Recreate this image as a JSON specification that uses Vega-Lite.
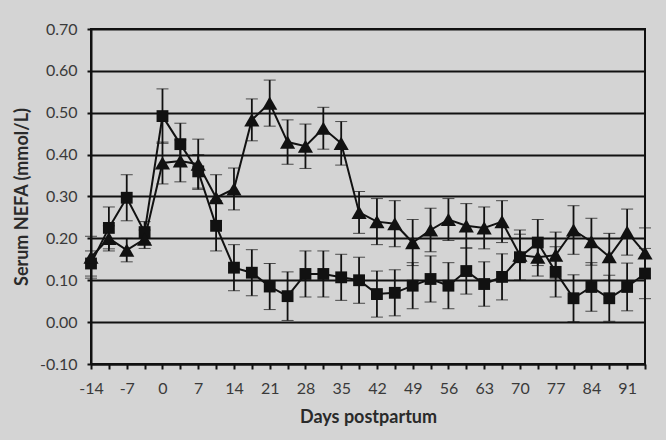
{
  "$schema": "https://vega.github.io/schema/vega-lite/v6.json",
  "width": 554,
  "height": 335,
  "autosize": {"type": "none"},
  "padding": {"left": 91, "top": 29, "right": 21, "bottom": 76},
  "background": "#d4d4d4",
  "config": {
    "view": {"stroke": "#111111", "strokeWidth": 2, "fill": "#d4d4d4"},
    "font": "Lato"
  },
  "datasets": {
    "nefa": [
      {"day": -14, "group": "sq", "v": 0.14, "e": 0.03},
      {"day": -10.5, "group": "sq", "v": 0.225, "e": 0.05},
      {"day": -7, "group": "sq", "v": 0.297, "e": 0.055},
      {"day": -3.5, "group": "sq", "v": 0.215, "e": 0.025},
      {"day": 0, "group": "sq", "v": 0.492, "e": 0.065},
      {"day": 3.5, "group": "sq", "v": 0.425, "e": 0.05},
      {"day": 7, "group": "sq", "v": 0.36, "e": 0.04},
      {"day": 10.5, "group": "sq", "v": 0.23, "e": 0.06},
      {"day": 14, "group": "sq", "v": 0.13, "e": 0.055},
      {"day": 17.5, "group": "sq", "v": 0.118, "e": 0.055},
      {"day": 21, "group": "sq", "v": 0.085, "e": 0.055},
      {"day": 24.5, "group": "sq", "v": 0.062, "e": 0.058},
      {"day": 28, "group": "sq", "v": 0.115, "e": 0.055},
      {"day": 31.5, "group": "sq", "v": 0.115, "e": 0.055},
      {"day": 35, "group": "sq", "v": 0.107, "e": 0.055},
      {"day": 38.5, "group": "sq", "v": 0.1, "e": 0.055},
      {"day": 42, "group": "sq", "v": 0.067, "e": 0.055},
      {"day": 45.5, "group": "sq", "v": 0.07, "e": 0.055},
      {"day": 49, "group": "sq", "v": 0.087, "e": 0.055},
      {"day": 52.5, "group": "sq", "v": 0.103, "e": 0.055},
      {"day": 56, "group": "sq", "v": 0.087, "e": 0.055},
      {"day": 59.5, "group": "sq", "v": 0.122, "e": 0.055},
      {"day": 63, "group": "sq", "v": 0.091, "e": 0.053},
      {"day": 66.5, "group": "sq", "v": 0.108, "e": 0.055},
      {"day": 70, "group": "sq", "v": 0.155, "e": 0.055},
      {"day": 73.5, "group": "sq", "v": 0.19, "e": 0.055},
      {"day": 77, "group": "sq", "v": 0.12, "e": 0.06},
      {"day": 80.5, "group": "sq", "v": 0.057, "e": 0.056},
      {"day": 84, "group": "sq", "v": 0.084, "e": 0.058},
      {"day": 87.5, "group": "sq", "v": 0.057, "e": 0.055},
      {"day": 91, "group": "sq", "v": 0.084, "e": 0.057},
      {"day": 94.5, "group": "sq", "v": 0.116, "e": 0.06},
      {"day": -14, "group": "tri", "v": 0.155, "e": 0.05},
      {"day": -10.5, "group": "tri", "v": 0.2, "e": 0.03},
      {"day": -7, "group": "tri", "v": 0.172, "e": 0.028},
      {"day": -3.5, "group": "tri", "v": 0.198, "e": 0.022},
      {"day": 0, "group": "tri", "v": 0.38, "e": 0.05},
      {"day": 3.5, "group": "tri", "v": 0.385, "e": 0.05},
      {"day": 7, "group": "tri", "v": 0.377, "e": 0.06},
      {"day": 10.5, "group": "tri", "v": 0.297, "e": 0.055},
      {"day": 14, "group": "tri", "v": 0.318, "e": 0.05},
      {"day": 17.5, "group": "tri", "v": 0.483, "e": 0.05},
      {"day": 21, "group": "tri", "v": 0.523, "e": 0.055},
      {"day": 24.5, "group": "tri", "v": 0.43, "e": 0.053},
      {"day": 28, "group": "tri", "v": 0.42, "e": 0.053},
      {"day": 31.5, "group": "tri", "v": 0.463, "e": 0.05},
      {"day": 35, "group": "tri", "v": 0.427, "e": 0.052},
      {"day": 38.5, "group": "tri", "v": 0.262, "e": 0.05},
      {"day": 42, "group": "tri", "v": 0.24, "e": 0.055},
      {"day": 45.5, "group": "tri", "v": 0.235, "e": 0.055},
      {"day": 49, "group": "tri", "v": 0.19, "e": 0.055},
      {"day": 52.5, "group": "tri", "v": 0.22, "e": 0.052},
      {"day": 56, "group": "tri", "v": 0.245, "e": 0.05},
      {"day": 59.5, "group": "tri", "v": 0.23, "e": 0.053},
      {"day": 63, "group": "tri", "v": 0.225, "e": 0.05},
      {"day": 66.5, "group": "tri", "v": 0.24, "e": 0.05},
      {"day": 70, "group": "tri", "v": 0.16, "e": 0.06},
      {"day": 73.5, "group": "tri", "v": 0.155, "e": 0.045},
      {"day": 77, "group": "tri", "v": 0.16, "e": 0.055},
      {"day": 80.5, "group": "tri", "v": 0.22, "e": 0.058},
      {"day": 84, "group": "tri", "v": 0.192, "e": 0.056},
      {"day": 87.5, "group": "tri", "v": 0.156, "e": 0.056},
      {"day": 91, "group": "tri", "v": 0.215, "e": 0.055},
      {"day": 94.5, "group": "tri", "v": 0.165, "e": 0.06}
    ]
  },
  "data": {"name": "nefa"},
  "encoding": {
    "x": {
      "field": "day",
      "type": "quantitative",
      "scale": {"domain": [-14, 94.5], "nice": false, "zero": false},
      "axis": {
        "title": "Days postpartum",
        "values": [-14, -10.5, -7, -3.5, 0, 3.5, 7, 10.5, 14, 17.5, 21, 24.5, 28, 31.5, 35, 38.5, 42, 45.5, 49, 52.5, 56, 59.5, 63, 66.5, 70, 73.5, 77, 80.5, 84, 87.5, 91, 94.5],
        "labelExpr": "datum.value % 7 == 0 ? replace(datum.label, '\u2212', '-') : ''",
        "grid": false,
        "domainColor": "#111111",
        "domainWidth": 2,
        "tickColor": "#111111",
        "tickWidth": 2,
        "tickSize": 5,
        "labelPadding": 11,
        "labelFontSize": 16,
        "labelColor": "#3a3a3a",
        "labelFont": "Lato",
        "labelOverlap": false,
        "labelFlush": false,
        "titleFont": "Lato",
        "titleFontSize": 18,
        "titleFontWeight": "bold",
        "titleColor": "#2a2a2a",
        "titlePadding": 12
      }
    },
    "y": {
      "field": "v",
      "type": "quantitative",
      "scale": {"domain": [-0.1, 0.7], "nice": false, "zero": false},
      "axis": {
        "title": "Serum NEFA (mmol/L)",
        "values": [-0.1, 0, 0.1, 0.2, 0.3, 0.4, 0.5, 0.6, 0.7],
        "format": ".2f",
        "labelExpr": "replace(datum.label, '\u2212', '-')",
        "grid": true,
        "gridColor": "#111111",
        "gridWidth": 2,
        "gridOpacity": 1,
        "domainColor": "#111111",
        "domainWidth": 2,
        "tickColor": "#111111",
        "tickWidth": 2,
        "tickSize": 4,
        "labelPadding": 10,
        "labelFontSize": 16,
        "labelColor": "#3a3a3a",
        "labelFont": "Lato",
        "titleFont": "Lato",
        "titleFontSize": 18,
        "titleFontWeight": "bold",
        "titleColor": "#2a2a2a",
        "titlePadding": 8
      }
    }
  },
  "layer": [
    {
      "mark": {
        "type": "errorbar",
        "ticks": {"size": 12, "color": "#111111", "strokeWidth": 1.8},
        "rule": {"color": "#111111", "strokeWidth": 1.8}
      },
      "encoding": {
        "y": {"field": "v", "type": "quantitative"},
        "yError": {"field": "e"},
        "detail": {"field": "group"}
      }
    },
    {
      "mark": {"type": "line", "color": "#111111", "strokeWidth": 2},
      "encoding": {"detail": {"field": "group"}}
    },
    {
      "transform": [{"filter": "datum.group == 'sq'"}],
      "mark": {"type": "point", "shape": "square", "filled": true, "color": "#111111", "opacity": 1, "size": 140}
    },
    {
      "transform": [{"filter": "datum.group == 'tri'"}],
      "mark": {"type": "point", "shape": "triangle-up", "filled": true, "color": "#111111", "opacity": 1, "size": 230}
    }
  ]
}
